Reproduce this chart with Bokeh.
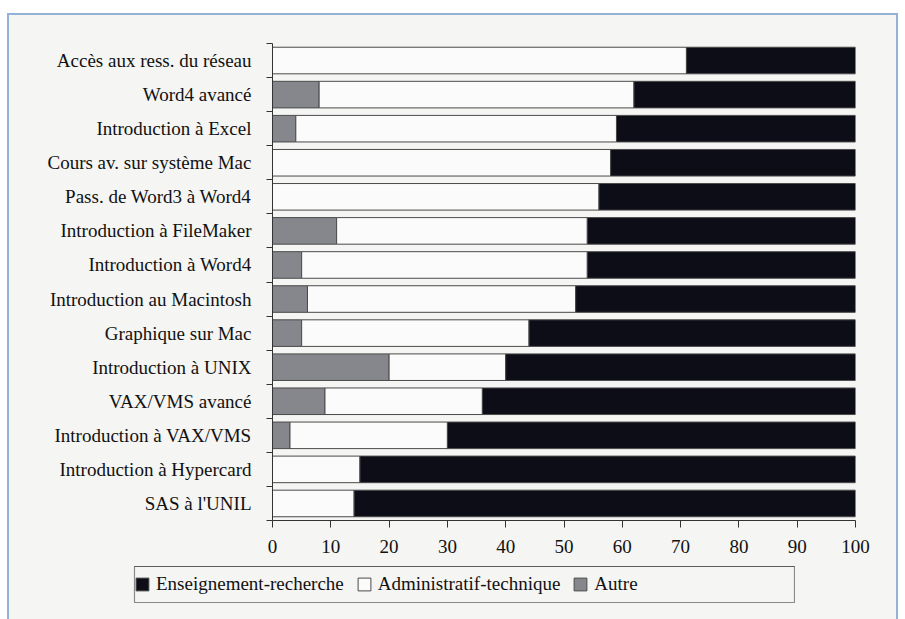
from bokeh.plotting import figure
from bokeh.layouts import column, row
from bokeh.models import (Range1d, FixedTicker, Legend, LegendItem, ColumnDataSource, Spacer)
from bokeh.embed import file_html
from bokeh.resources import INLINE

categories = [
    "Accès aux ress. du réseau",
    "Word4 avancé",
    "Introduction à Excel",
    "Cours av. sur système Mac",
    "Pass. de Word3 à Word4",
    "Introduction à FileMaker",
    "Introduction à Word4",
    "Introduction au Macintosh",
    "Graphique sur Mac",
    "Introduction à UNIX",
    "VAX/VMS avancé",
    "Introduction à VAX/VMS",
    "Introduction à Hypercard",
    "SAS à l'UNIL",
]
autre = [0, 8, 4, 0, 0, 11, 5, 6, 5, 20, 9, 3, 0, 0]
admin = [71, 54, 55, 58, 56, 43, 49, 46, 39, 20, 27, 27, 15, 14]
ens = [29, 38, 41, 42, 44, 46, 46, 48, 56, 60, 64, 70, 85, 86]
series_names = ["Enseignement-recherche", "Administratif-technique", "Autre"]
x_ticks = [0, 10, 20, 30, 40, 50, 60, 70, 80, 90, 100]

FONT = "Liberation Serif"
FSIZE = "19px"
TXT = "#111111"
BG = "#f5f5f3"
COLORS = {"autre": "#86878d", "admin": "#fbfbfb", "ens": "#0d0d18"}
EDGE = "#4a4a4a"
n = len(categories)
ypos = [n - i - 0.5 for i in range(n)]

src = ColumnDataSource(dict(y=ypos, autre=autre, admin=admin, ens=ens, cat=categories))

p = figure(width=887, height=549, output_backend="svg", toolbar_location=None,
           x_range=Range1d(0, 100), y_range=Range1d(0, n),
           min_border_left=263, min_border_right=41, min_border_top=28,
           min_border_bottom=44,
           background_fill_color=BG, border_fill_color=BG)
p.outline_line_color = None
p.grid.visible = False

rs = p.hbar_stack(["autre", "admin", "ens"], y="y", height=0.78,
                  color=[COLORS["autre"], COLORS["admin"], COLORS["ens"]],
                  line_color=EDGE, line_width=1, source=src)

# axes
xa = p.xaxis[0]
xa.ticker = FixedTicker(ticks=x_ticks, minor_ticks=[])
xa.major_tick_out = 7
xa.major_tick_in = 0
xa.axis_line_color = "#333333"
xa.major_tick_line_color = "#333333"
xa.major_label_text_font = FONT
xa.major_label_text_font_size = FSIZE
xa.major_label_text_color = TXT
xa.major_label_standoff = 12

ya = p.yaxis[0]
ya.ticker = FixedTicker(ticks=ypos, minor_ticks=list(range(n + 1)))
ya.major_label_overrides = {y: c for y, c in zip(ypos, categories)}
ya.major_tick_out = 0
ya.major_tick_in = 0
ya.major_tick_line_color = None
ya.minor_tick_out = 6
ya.minor_tick_in = 0
ya.minor_tick_line_color = "#333333"
ya.axis_line_color = "#333333"
ya.major_label_text_font = FONT
ya.major_label_text_font_size = FSIZE
ya.major_label_text_color = TXT
ya.major_label_standoff = 15

# legend in its own framed strip below the chart
lf = figure(width=662, height=38, output_backend="svg", toolbar_location=None,
            x_range=Range1d(0, 1), y_range=Range1d(0, 1),
            x_axis_location=None, y_axis_location=None,
            min_border_left=1, min_border_right=1, min_border_top=1, min_border_bottom=1,
            background_fill_color=BG, border_fill_color=BG)
lf.grid.visible = False
lf.outline_line_color = "#8a8a8a"
lf.outline_line_width = 1.2
swatches = {}
for key in ["ens", "admin", "autre"]:
    # swatch renderers placed outside the visible range; only their legend glyph shows
    swatches[key] = lf.hbar(y=[5], right=[1], height=0.5, fill_color=COLORS[key],
                            line_color=EDGE, line_width=1)

legend = Legend(items=[LegendItem(label=series_names[0], renderers=[swatches["ens"]]),
                       LegendItem(label=series_names[1], renderers=[swatches["admin"]]),
                       LegendItem(label=series_names[2], renderers=[swatches["autre"]])],
                orientation="horizontal", location="left", margin=0, padding=7,
                spacing=12, label_standoff=6, glyph_width=16, glyph_height=16,
                label_text_font=FONT, label_text_font_size=FSIZE,
                label_text_color=TXT, border_line_color=None,
                background_fill_alpha=0)
lf.add_layout(legend)

legrow = row(Spacer(width=124, height=38), lf, spacing=0)
layout = column(p, Spacer(width=10, height=1), legrow, Spacer(width=10, height=16),
                spacing=0, margin=(13, 7, 0, 7),
                styles={"border-top": "2px solid #93b3d6",
                        "border-left": "2px solid #93b3d6",
                        "border-right": "2px solid #93b3d6",
                        "background-color": BG})

open("out.html", "w").write(file_html(layout, INLINE))
